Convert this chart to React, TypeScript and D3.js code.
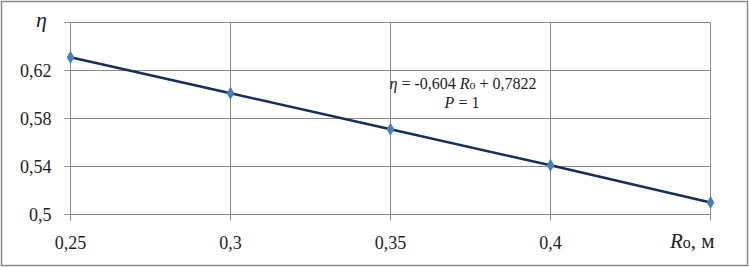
import React from "react";
import * as d3 from "d3";

const radii = [0.25, 0.3, 0.35, 0.4, 0.45];
const efficiency = [0.631, 0.601, 0.571, 0.541, 0.510];
const xTicks = [0.25, 0.3, 0.35, 0.4];
const xTickLabels = ["0,25", "0,3", "0,35", "0,4"];
const yTicks = [0.5, 0.54, 0.58, 0.62];
const yTickLabels = ["0,5", "0,54", "0,58", "0,62"];

const FF = "Times New Roman";

function T(props: any) {
  const { children, ...rest } = props;
  return (
    <text fontFamily={FF} style={{ fontFamily: FF }} fill="#222" {...rest}>
      {children}
    </text>
  );
}

export default function App() {
  const W = 749, H = 267;
  const left = 70.5, right = 710.5, top = 22.5, bottom = 214.5;
  const x = d3.scaleLinear().domain([0.25, 0.45]).range([left, right]);
  const y = d3.scaleLinear().domain([0.5, 0.66]).range([bottom, top]);
  const line = d3.line<number>().x((_, i) => x(radii[i])).y((d) => y(d));
  const gridX = [...xTicks, 0.45];
  const gridY = [...yTicks, 0.66];
  const diamond = d3.symbol().type(d3.symbolDiamond).size(50)();
  return (
    <svg width={W} height={H} style={{ position: "absolute", left: 0, top: 0 }}>
      <rect x={0} y={0} width={W} height={H} fill="#fff" />
      <rect x={1.5} y={1.5} width={W - 3} height={H - 3} fill="none" stroke="#8a8a8a" strokeWidth={1.5} />
      {gridY.map((v) => (
        <line key={"gy" + v} x1={left - 6} x2={right} y1={y(v)} y2={y(v)} stroke="#8c8c8c" strokeWidth={1} />
      ))}
      {gridX.map((v) => (
        <line key={"gx" + v} x1={x(v)} x2={x(v)} y1={top} y2={bottom + 6} stroke="#8c8c8c" strokeWidth={1} />
      ))}
      <line x1={left} x2={left} y1={top} y2={bottom + 6} stroke="#8c8c8c" />
      {yTicks.map((v, i) => (
        <T key={"yt" + v} x={left - 19} y={y(v) + 6} textAnchor="end" fontSize={18}>
          {yTickLabels[i]}
        </T>
      ))}
      {xTicks.map((v, i) => (
        <T key={"xt" + v} x={x(v)} y={bottom + 34} textAnchor="middle" fontSize={18}>
          {xTickLabels[i]}
        </T>
      ))}
      <path d={line(efficiency) || ""} fill="none" stroke="#14305a" strokeWidth={2.5} />
      {efficiency.map((v, i) => (
        <path key={"m" + i} d={diamond || ""} transform={`translate(${x(radii[i])},${y(v)})`} fill="#4a7ebb" />
      ))}
      <T x={36} y={27} fontSize={22} fontStyle="italic">η</T>
      <T x={670} y={248} fontSize={21}>
        <tspan fontStyle="italic">R</tspan>
        <tspan fontSize={16}>o</tspan>
        <tspan>, м</tspan>
      </T>
      <T x={463} y={89} textAnchor="middle" fontSize={16}>
        <tspan fontStyle="italic">η</tspan>
        <tspan> = -0,604 </tspan>
        <tspan fontStyle="italic">R</tspan>
        <tspan fontSize={12}>o</tspan>
        <tspan> + 0,7822</tspan>
      </T>
      <T x={462} y={108} textAnchor="middle" fontSize={16}>
        <tspan fontStyle="italic">P</tspan>
        <tspan> = 1</tspan>
      </T>
    </svg>
  );
}
